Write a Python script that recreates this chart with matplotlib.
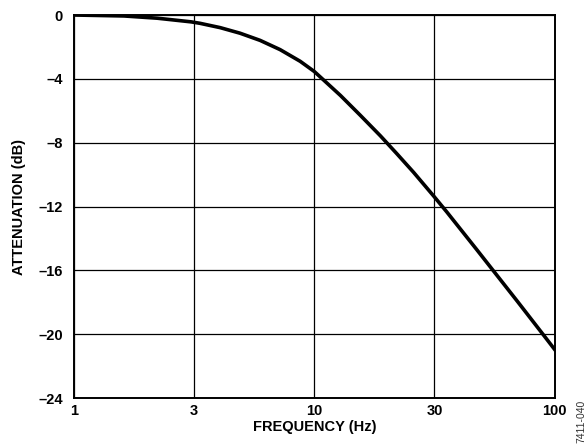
import numpy as np
import matplotlib
matplotlib.use("Agg")
import matplotlib.pyplot as plt

# curve (frequency in Hz, attenuation in dB)
freq_hz = [1.0, 1.58, 2.14, 2.92, 3.18, 3.89, 4.75, 5.81, 7.10, 8.68,
           10.0, 11.2, 12.7, 15.2, 18.3, 21.3, 24.8, 30.0, 34.0, 45.9,
           53.3, 68.8, 89.5, 100.0]
atten_db = [0.0, -0.06, -0.20, -0.43, -0.52, -0.79, -1.14, -1.59, -2.17, -2.90,
            -3.54, -4.25, -5.04, -6.27, -7.57, -8.70, -9.86, -11.40, -12.35, -14.71,
            -15.90, -17.93, -20.05, -20.95]

x_ticks = [1, 3, 10, 30, 100]
y_ticks = [0, -4, -8, -12, -16, -20, -24]

# the datasheet grid puts 1, 3, 10, 30, 100 at equal spacing
LOG_TICKS = np.log10(x_ticks)
POS_TICKS = np.arange(len(x_ticks), dtype=float)


def fwd(f):
    f = np.clip(np.asarray(f, dtype=float), 1e-6, None)
    return np.interp(np.log10(f), LOG_TICKS, POS_TICKS)


def inv(p):
    return 10 ** np.interp(np.asarray(p, dtype=float), POS_TICKS, LOG_TICKS)


plt.rcParams["font.family"] = ["Liberation Sans", "DejaVu Sans"]
plt.rcParams["font.weight"] = "bold"

fig = plt.figure(figsize=(5.88, 4.44), dpi=100)
ax = fig.add_axes([0.1259, 0.1036, 0.8172, 0.8626])

ax.set_xscale("function", functions=(fwd, inv))
ax.plot(freq_hz, atten_db, color="black", linewidth=2.6,
        solid_joinstyle="round", zorder=3)

ax.set_xlim(1, 100)
ax.set_ylim(-24, 0)
ax.set_xticks(x_ticks)
ax.set_xticklabels([str(t) for t in x_ticks])
ax.set_yticks(y_ticks)
ax.set_yticklabels([str(t).replace("-", "\u2013") for t in y_ticks])
ax.minorticks_off()
ax.tick_params(axis="both", length=0, labelsize=10.5)
ax.tick_params(axis="y", pad=8)
ax.tick_params(axis="x", pad=4)

ax.grid(True, color="black", linewidth=0.9)
ax.set_axisbelow(True)
for spine in ax.spines.values():
    spine.set_linewidth(1.4)

ax.set_xlabel("FREQUENCY (Hz)", fontsize=10.5, fontweight="bold", labelpad=2)
ax.set_ylabel("ATTENUATION (dB)", fontsize=10.5, fontweight="bold", labelpad=9)

fig.text(0.988, 0.003, "7411-040", rotation=90, ha="center", va="bottom",
         fontsize=7.5, fontweight="normal", color="#333333")

fig.savefig("out.png", dpi=100, facecolor="white")
